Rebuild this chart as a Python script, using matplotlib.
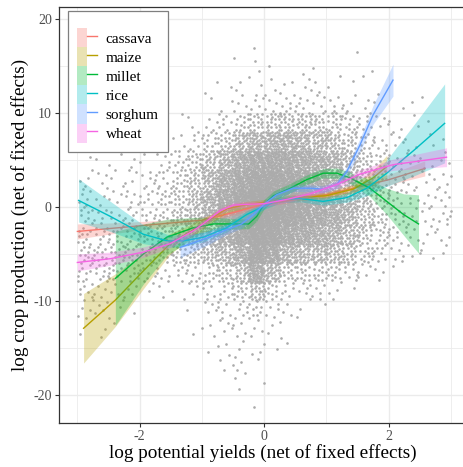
import matplotlib
matplotlib.use('Agg')
import matplotlib.pyplot as plt
import numpy as np
from matplotlib.patches import Patch
from matplotlib.lines import Line2D
from matplotlib.legend_handler import HandlerTuple

plt.rcParams['font.family'] = ['Liberation Serif', 'DejaVu Serif']
plt.rcParams['axes.unicode_minus'] = False

crops = ['cassava', 'maize', 'millet', 'rice', 'sorghum', 'wheat']
colors = ['#F8766D', '#B79F00', '#00BA38', '#00BFC4', '#619CFF', '#F564E3']

# smoothed fits: x, fitted y, half width of the band
cassava_x = [-3.0, -2.5, -2.0, -1.5, -1.0, -0.5, 0.0, 0.5, 1.0, 1.5, 2.0, 2.58]
cassava_y = [-2.6, -2.3, -2.0, -1.7, -1.4, -0.6, 0.3, 0.8, 1.3, 2.1, 2.9, 4.1]
cassava_se = [0.8, 0.6, 0.45, 0.35, 0.3, 0.25, 0.25, 0.25, 0.3, 0.4, 0.55, 0.8]

maize_x = [-2.9, -2.39, -1.94, -1.51, -1.13, -0.87, -0.6, -0.33, 0.0, 0.47, 1.0, 1.43, 1.75, 1.97]
maize_y = [-12.9, -9.9, -6.8, -3.9, -2.4, -1.3, -0.2, 0.2, 0.5, 1.0, 1.2, 1.9, 3.1, 4.3]
maize_se = [3.7, 2.8, 1.9, 1.1, 0.7, 0.5, 0.4, 0.35, 0.3, 0.3, 0.3, 0.45, 0.8, 1.2]

millet_x = [-2.39, -1.94, -1.56, -1.13, -0.81, -0.49, -0.25, -0.12, 0.0, 0.15, 0.42, 0.68,
            0.95, 1.17, 1.38, 1.7, 1.97, 2.24, 2.48]
millet_y = [-7.6, -5.0, -3.2, -2.2, -1.8, -1.8, -1.8, -1.0, 0.3, 1.2, 2.0, 2.9,
            3.6, 3.6, 3.1, 2.0, 0.6, -0.8, -1.8]
millet_se = [5.0, 3.2, 1.9, 1.1, 0.7, 0.55, 0.5, 0.5, 0.5, 0.5, 0.5, 0.5,
             0.5, 0.55, 0.6, 0.9, 1.4, 2.2, 3.1]

rice_x = [-2.98, -2.47, -1.94, -1.56, -1.29, -0.97, -0.6, -0.28, 0.0, 0.26, 0.58, 0.95,
          1.33, 1.65, 1.97, 2.4, 2.9]
rice_y = [0.7, -1.0, -2.9, -3.6, -3.6, -3.2, -2.2, -0.8, 0.1, 0.8, 0.9, 0.6,
          1.0, 2.0, 3.6, 6.0, 8.9]
rice_se = [2.3, 1.6, 1.0, 0.7, 0.6, 0.5, 0.45, 0.4, 0.35, 0.35, 0.35, 0.4,
           0.5, 0.8, 1.4, 2.7, 4.2]

sorghum_x = [-1.35, -0.87, -0.6, -0.36, -0.17, 0.0, 0.2, 0.47, 0.74, 0.95, 1.17, 1.33, 1.54, 1.75, 2.07]
sorghum_y = [-4.3, -3.2, -2.4, -1.8, -0.8, 0.3, 1.3, 2.0, 2.0, 1.9, 2.4, 3.8, 6.6, 9.8, 13.5]
sorghum_se = [1.1, 0.7, 0.5, 0.45, 0.4, 0.35, 0.35, 0.35, 0.35, 0.35, 0.4, 0.5, 0.7, 1.0, 1.7]

wheat_x = [-3.0, -2.47, -1.94, -1.51, -1.13, -0.92, -0.71, -0.49, -0.22, 0.0, 0.36, 0.74,
           1.17, 1.54, 2.07, 2.5, 2.93]
wheat_y = [-5.9, -5.5, -4.8, -3.9, -2.5, -1.5, -0.4, 0.2, 0.3, 0.35, 0.8, 1.4,
           2.4, 3.5, 4.5, 4.9, 5.3]
wheat_se = [0.9, 0.7, 0.55, 0.45, 0.4, 0.35, 0.3, 0.3, 0.3, 0.3, 0.3, 0.3,
            0.35, 0.45, 0.6, 0.8, 1.0]

fits = {
    'cassava': (cassava_x, cassava_y, cassava_se),
    'maize': (maize_x, maize_y, maize_se),
    'millet': (millet_x, millet_y, millet_se),
    'rice': (rice_x, rice_y, rice_se),
    'sorghum': (sorghum_x, sorghum_y, sorghum_se),
    'wheat': (wheat_x, wheat_y, wheat_se),
}

# point cloud, estimated as counts per cell (cells 0.25 wide in x, 2 high in y)
cloud_x0 = -3.25
cloud_dx = 0.25
cloud_dy = 2.0
cloud_rows_y = [16, 14, 12, 10, 8, 6, 4, 2, 0, -2, -4, -6, -8, -10, -12, -14, -16, -18, -20, -22]
cloud_counts = [
    [0, 0, 0, 0, 0, 0, 0, 0, 0, 0, 0, 0, 1, 0, 0, 0, 0, 0, 1, 0, 0, 0, 0, 0, 0, 0],
    [0, 0, 0, 0, 0, 0, 0, 0, 0, 0, 0, 1, 2, 1, 0, 1, 1, 0, 0, 1, 0, 0, 0, 0, 0, 0],
    [0, 0, 0, 0, 0, 0, 0, 0, 0, 2, 1, 2, 2, 2, 3, 2, 3, 2, 1, 1, 0, 0, 0, 0, 0, 0],
    [0, 0, 0, 0, 0, 0, 0, 0, 0, 1, 2, 4, 5, 5, 6, 6, 5, 5, 4, 2, 2, 1, 1, 1, 0, 0],
    [0, 0, 0, 0, 0, 0, 0, 1, 2, 4, 7, 12, 17, 19, 20, 19, 17, 15, 11, 7, 4, 3, 2, 1, 0, 0],
    [0, 0, 0, 0, 0, 1, 2, 3, 6, 11, 18, 30, 42, 46, 46, 40, 33, 26, 18, 10, 6, 4, 3, 2, 1, 0],
    [0, 1, 2, 2, 2, 3, 5, 9, 15, 25, 40, 60, 78, 82, 76, 64, 54, 42, 28, 17, 10, 6, 4, 3, 3, 0],
    [0, 4, 3, 3, 4, 5, 8, 13, 22, 36, 58, 85, 110, 110, 100, 82, 68, 50, 34, 20, 12, 7, 5, 4, 4, 0],
    [0, 6, 4, 4, 6, 8, 11, 17, 27, 45, 72, 110, 150, 145, 120, 100, 80, 60, 38, 22, 13, 8, 5, 4, 5, 0],
    [0, 8, 5, 6, 7, 9, 12, 19, 28, 46, 72, 110, 155, 145, 110, 90, 72, 55, 38, 22, 13, 8, 5, 4, 6, 0],
    [0, 10, 8, 9, 10, 12, 15, 22, 30, 42, 58, 88, 140, 120, 80, 66, 55, 44, 30, 18, 11, 7, 5, 4, 3, 0],
    [0, 11, 11, 12, 12, 11, 13, 15, 19, 25, 35, 55, 110, 80, 42, 36, 32, 28, 20, 13, 8, 5, 3, 2, 2, 0],
    [0, 9, 9, 10, 9, 7, 6, 6, 8, 11, 16, 27, 70, 34, 16, 14, 13, 11, 8, 5, 3, 1, 0, 0, 0, 0],
    [0, 7, 5, 4, 4, 2, 2, 2, 3, 6, 9, 13, 26, 12, 7, 6, 5, 4, 1, 0, 0, 0, 0, 0, 0, 0],
    [0, 4, 4, 2, 1, 0, 0, 0, 1, 4, 6, 7, 9, 6, 3, 2, 1, 0, 0, 0, 0, 0, 0, 0, 0, 0],
    [0, 1, 2, 1, 0, 0, 0, 0, 1, 3, 4, 4, 4, 3, 1, 0, 0, 0, 0, 0, 0, 0, 0, 0, 0, 0],
    [0, 0, 0, 0, 0, 0, 0, 0, 0, 1, 3, 3, 3, 1, 1, 0, 0, 0, 0, 0, 0, 0, 0, 0, 0, 0],
    [0, 0, 0, 0, 0, 0, 0, 0, 0, 0, 2, 4, 1, 0, 0, 0, 0, 0, 0, 0, 0, 0, 0, 0, 0, 0],
    [0, 0, 0, 0, 0, 0, 0, 0, 0, 0, 0, 2, 1, 0, 0, 0, 0, 0, 0, 0, 0, 0, 0, 0, 0, 0],
    [0, 0, 0, 0, 0, 0, 0, 0, 0, 0, 0, 0, 1, 0, 0, 0, 0, 0, 0, 0, 0, 0, 0, 0, 0, 0],
]


def cloud_points():
    # spread each cell's count over the cell with a fixed low-discrepancy pattern
    a1, a2 = 0.7548776662, 0.5698402910
    xs, ys = [], []
    for r, (y0, row) in enumerate(zip(cloud_rows_y, cloud_counts)):
        for c, n in enumerate(row):
            s1 = (r * 0.37 + c * 0.61) % 1.0
            s2 = (r * 0.73 + c * 0.29) % 1.0
            k = np.arange(n)
            xs.append(cloud_x0 + c * cloud_dx + cloud_dx * ((s1 + k * a1) % 1.0))
            ys.append(y0 + cloud_dy * ((s2 + k * a2) % 1.0))
    return np.concatenate(xs), np.concatenate(ys)


fig = plt.figure(figsize=(4.64, 4.67), dpi=100)
# panel runs a little past the right edge of the image, as in the original
ax = fig.add_axes([58.7 / 464, 44 / 467, 407.3 / 464, 416 / 467])

px, py = cloud_points()
ax.scatter(px, py, s=3.6, color='#ABABAB', linewidths=0, zorder=2)

for crop, col in zip(crops, colors):
    x, y, se = (np.array(v) for v in fits[crop])
    ax.fill_between(x, y - se, y + se, color=col, alpha=0.3, linewidth=0, zorder=3)
    ax.plot(x, y, color=col, linewidth=1.0, zorder=3)

ax.set_xlim(-3.30, 3.243)
ax.set_ylim(-22.98, 21.28)
ax.set_xticks([-2, 0, 2])
ax.set_xticks([-3, -1, 1, 3], minor=True)
ax.set_yticks([-20, -10, 0, 10, 20])
ax.set_yticks([-15, -5, 5, 15], minor=True)
ax.grid(which='major', color='#EBEBEB', linewidth=1.0, zorder=0)
ax.grid(which='minor', color='#EBEBEB', linewidth=0.6, zorder=0)
ax.set_axisbelow(True)
ax.tick_params(which='minor', length=0)
ax.tick_params(which='major', length=3, width=0.8, color='#333333', labelcolor='#4D4D4D',
               labelsize=10, pad=2)
for sp in ax.spines.values():
    sp.set_color('#333333')
    sp.set_linewidth(0.9)

ax.set_xlabel('log potential yields (net of fixed effects)', fontsize=13.8, labelpad=1)
ax.set_ylabel('log crop production (net of fixed effects)', fontsize=13.8, labelpad=3)

handles = [(Patch(facecolor=c, alpha=0.3, edgecolor='none'), Line2D([], [], color=c, linewidth=1.0))
           for c in colors]
leg = ax.legend(handles, crops, handler_map={tuple: HandlerTuple(ndivide=None, pad=0)},
                loc='upper left', bbox_to_anchor=(0.022, 0.99), borderaxespad=0,
                fontsize=11, title=' ', title_fontsize=6, handlelength=1.3, handleheight=1.54,
                handletextpad=0.6, labelspacing=0, borderpad=0.6,
                frameon=True, fancybox=False, framealpha=1)
leg.get_frame().set_edgecolor('#7F7F7F')
leg.get_frame().set_linewidth(0.9)
leg.set_zorder(5)

fig.savefig('out.png', dpi=100)
